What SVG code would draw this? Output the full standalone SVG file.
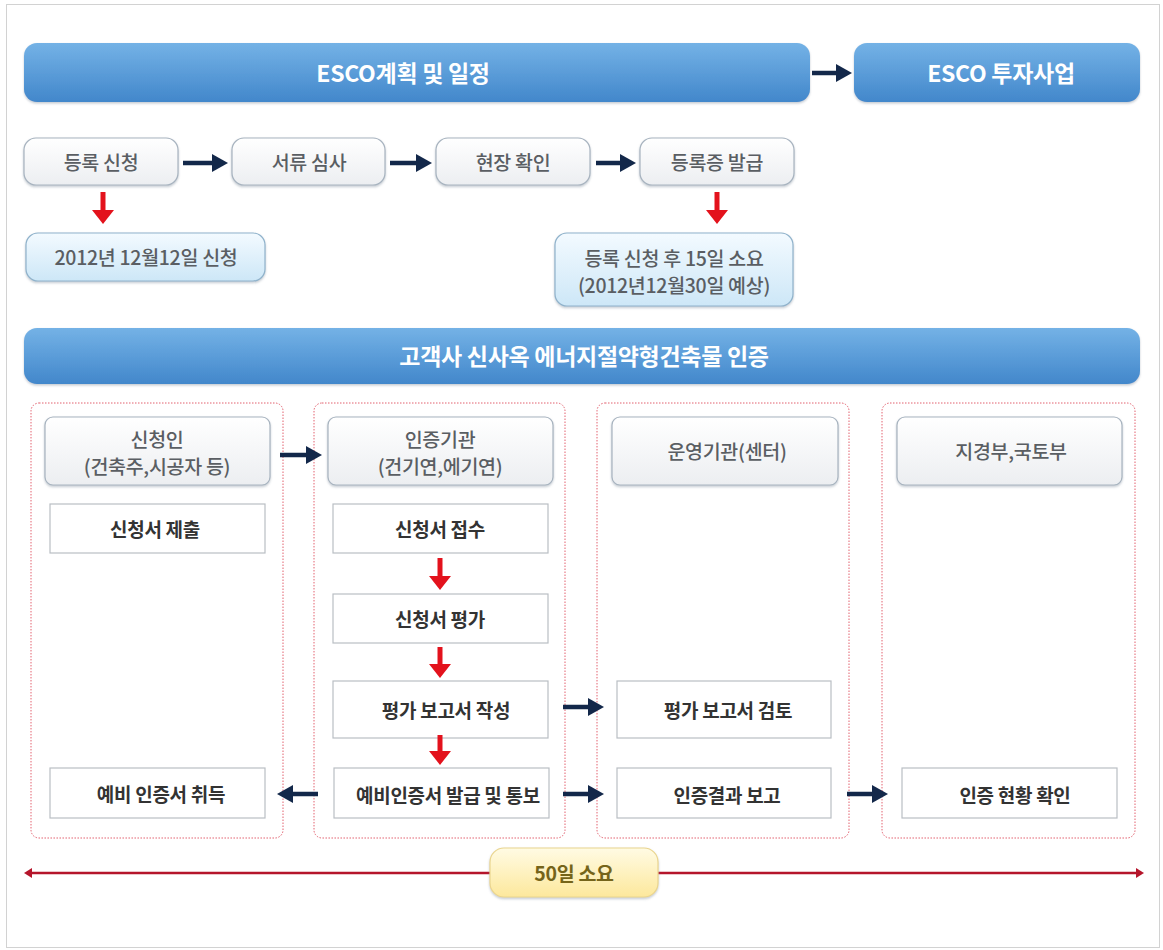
<svg xmlns="http://www.w3.org/2000/svg" width="1163" height="950" viewBox="0 0 1163 950">
<defs>
<linearGradient id="gBar" x1="0" y1="0" x2="0" y2="1"><stop offset="0" stop-color="#74b2e6"/><stop offset="1" stop-color="#4287cb"/></linearGradient>
<linearGradient id="gGray" x1="0" y1="0" x2="0" y2="1"><stop offset="0" stop-color="#ffffff"/><stop offset="1" stop-color="#eceef1"/></linearGradient>
<linearGradient id="gBlue" x1="0" y1="0" x2="0" y2="1"><stop offset="0" stop-color="#f3faff"/><stop offset="1" stop-color="#cde7f7"/></linearGradient>
<linearGradient id="gYel" x1="0" y1="0" x2="0" y2="1"><stop offset="0" stop-color="#fffbe4"/><stop offset="1" stop-color="#fde89c"/></linearGradient>
<filter id="sh" x="-5%" y="-20%" width="110%" height="150%"><feDropShadow dx="0" dy="1.5" stdDeviation="1.2" flood-color="#7a8a9a" flood-opacity="0.45"/></filter>
<marker id="mNavy" markerUnits="userSpaceOnUse" markerWidth="16" markerHeight="18" refX="8" refY="9" orient="auto"><path d="M0,0 L16,9 L0,18 Z" fill="#13284a"/></marker>
<marker id="mRed" markerUnits="userSpaceOnUse" markerWidth="14" markerHeight="22" refX="6" refY="11" orient="auto"><path d="M0,0 L14,11 L0,22 Z" fill="#e3121c"/></marker>
<marker id="mTl" markerUnits="userSpaceOnUse" markerWidth="8" markerHeight="10" refX="5" refY="5" orient="auto-start-reverse"><path d="M0,0 L8,5 L0,10 Z" fill="#b5152b"/></marker>
<style>
text{font-family:"Noto Sans CJK KR","Noto Sans",sans-serif;text-anchor:middle;dominant-baseline:central}
.bar{fill:url(#gBar);filter:url(#sh)}
.bart{fill:#ffffff;font-size:23px;font-weight:bold;letter-spacing:-0.3px}
.gbox{fill:url(#gGray);stroke:#a7b3bf;stroke-width:1.2;filter:url(#sh)}
.bbox{fill:url(#gBlue);stroke:#8fb2cb;stroke-width:1.2;filter:url(#sh)}
.gt{fill:#5a5e63;font-size:19.5px;font-weight:500;letter-spacing:-0.3px}
.col{fill:#ffffff;stroke:#e2606e;stroke-width:1;stroke-dasharray:1.5 1.5}
.wbox{fill:#ffffff;stroke:#b9bec4;stroke-width:1.2}
.wt{fill:#333333;font-size:19px;font-weight:bold;letter-spacing:-0.3px}
.na{stroke:#13284a;stroke-width:4.5;fill:none;marker-end:url(#mNavy)}
.ra{stroke:#e3121c;stroke-width:5;fill:none;marker-end:url(#mRed)}
</style>
</defs>
<rect x="6.5" y="4.5" width="1153" height="943" fill="#ffffff" stroke="#d2d2d2" stroke-width="1"/>

<g id="bar-plan"><rect class="bar" x="24" y="43" width="786" height="59" rx="13"/><text class="bart" x="403" y="72">ESCO계획 및 일정</text></g>
<g id="bar-invest"><rect class="bar" x="854" y="43" width="286" height="59" rx="13"/><text class="bart" x="1001" y="72">ESCO 투자사업</text></g>

<g id="n-reg"><rect class="gbox" x="24" y="138" width="154" height="47" rx="12"/><text class="gt" x="101" y="161">등록 신청</text></g>
<g id="n-doc"><rect class="gbox" x="232" y="138" width="153" height="47" rx="12"/><text class="gt" x="309" y="161">서류 심사</text></g>
<g id="n-site"><rect class="gbox" x="436" y="138" width="154" height="47" rx="12"/><text class="gt" x="513" y="161">현장 확인</text></g>
<g id="n-cert"><rect class="gbox" x="640" y="138" width="154" height="47" rx="12"/><text class="gt" x="717" y="161">등록증 발급</text></g>
<g id="n-date1"><rect class="bbox" x="26" y="233" width="239" height="48" rx="12"/><text class="gt" x="146" y="256">2012년 12월12일 신청</text></g>
<g id="n-date2"><rect class="bbox" x="555" y="233" width="238" height="73" rx="12"/><text class="gt" x="674" y="257">등록 신청 후 15일 소요</text><text class="gt" x="674" y="284">(2012년12월30일 예상)</text></g>

<g id="bar-cert"><rect class="bar" x="24" y="328" width="1116" height="56" rx="13"/><text class="bart" x="584" y="355">고객사 신사옥 에너지절약형건축물 인증</text></g>

<g id="col1"><rect class="col" x="31" y="403" width="252" height="435" rx="8"/></g>
<g id="col2"><rect class="col" x="314" y="403" width="251" height="435" rx="8"/></g>
<g id="col3"><rect class="col" x="597" y="403" width="252" height="435" rx="8"/></g>
<g id="col4"><rect class="col" x="882" y="403" width="253" height="435" rx="8"/></g>

<g id="h-applicant"><rect class="gbox" x="45" y="417" width="225" height="68" rx="8"/><text class="gt" x="157" y="438">신청인</text><text class="gt" x="157" y="465">(건축주,시공자 등)</text></g>
<g id="h-agency"><rect class="gbox" x="328" y="417" width="225" height="68" rx="8"/><text class="gt" x="440" y="438">인증기관</text><text class="gt" x="440" y="465">(건기연,에기연)</text></g>
<g id="h-operator"><rect class="gbox" x="612" y="417" width="226" height="68" rx="8"/><text class="gt" x="727" y="450">운영기관(센터)</text></g>
<g id="h-ministry"><rect class="gbox" x="897" y="417" width="225" height="68" rx="8"/><text class="gt" x="1011" y="450">지경부,국토부</text></g>

<g id="b-submit"><rect class="wbox" x="50" y="504" width="215" height="49"/><text class="wt" x="155" y="528">신청서 제출</text></g>
<g id="b-receive"><rect class="wbox" x="333" y="504" width="215" height="49"/><text class="wt" x="440" y="528">신청서 접수</text></g>
<g id="b-eval"><rect class="wbox" x="333" y="594" width="215" height="49"/><text class="wt" x="440" y="618">신청서 평가</text></g>
<g id="b-report"><rect class="wbox" x="333" y="681" width="215" height="57"/><text class="wt" x="446" y="709">평가 보고서 작성</text></g>
<g id="b-issue"><rect class="wbox" x="334" y="768" width="215" height="50"/><text class="wt" x="448" y="794" letter-spacing="-1">예비인증서 발급 및 통보</text></g>
<g id="b-obtain"><rect class="wbox" x="50" y="768" width="215" height="50"/><text class="wt" x="161" y="793">예비 인증서 취득</text></g>
<g id="b-review"><rect class="wbox" x="617" y="681" width="214" height="57"/><text class="wt" x="728" y="709">평가 보고서 검토</text></g>
<g id="b-result"><rect class="wbox" x="617" y="768" width="214" height="50"/><text class="wt" x="727" y="794">인증결과 보고</text></g>
<g id="b-status"><rect class="wbox" x="902" y="768" width="215" height="50"/><text class="wt" x="1015" y="794">인증 현황 확인</text></g>

<g id="connectors">
<line class="na" x1="812" y1="73" x2="844" y2="73"/>
<line class="na" x1="183" y1="163" x2="220" y2="163"/>
<line class="na" x1="390" y1="163" x2="424" y2="163"/>
<line class="na" x1="596" y1="163" x2="628" y2="163"/>
<line class="ra" x1="103" y1="192" x2="103" y2="216"/>
<line class="ra" x1="717" y1="192" x2="717" y2="216"/>
<line class="na" x1="280" y1="455" x2="314" y2="455"/>
<line class="ra" x1="440" y1="558" x2="440" y2="582"/>
<line class="ra" x1="440" y1="647" x2="440" y2="670"/>
<line class="ra" x1="440" y1="735" x2="440" y2="757"/>
<line class="na" x1="563" y1="707" x2="596" y2="707"/>
<line class="na" x1="563" y1="794" x2="596" y2="794"/>
<line class="na" x1="847" y1="794" x2="880" y2="794"/>
<line class="na" x1="318" y1="794" x2="285" y2="794"/>
<line x1="27" y1="873" x2="1141" y2="873" stroke="#b5152b" stroke-width="2.5" marker-start="url(#mTl)" marker-end="url(#mTl)"/>
</g>

<g id="n-duration"><rect x="490" y="848" width="168" height="49" rx="14" fill="url(#gYel)" stroke="#ead58e" stroke-width="1.2" filter="url(#sh)"/><text x="574" y="872" fill="#75641a" font-size="19.5" font-weight="bold" letter-spacing="-0.3">50일 소요</text></g>
</svg>
